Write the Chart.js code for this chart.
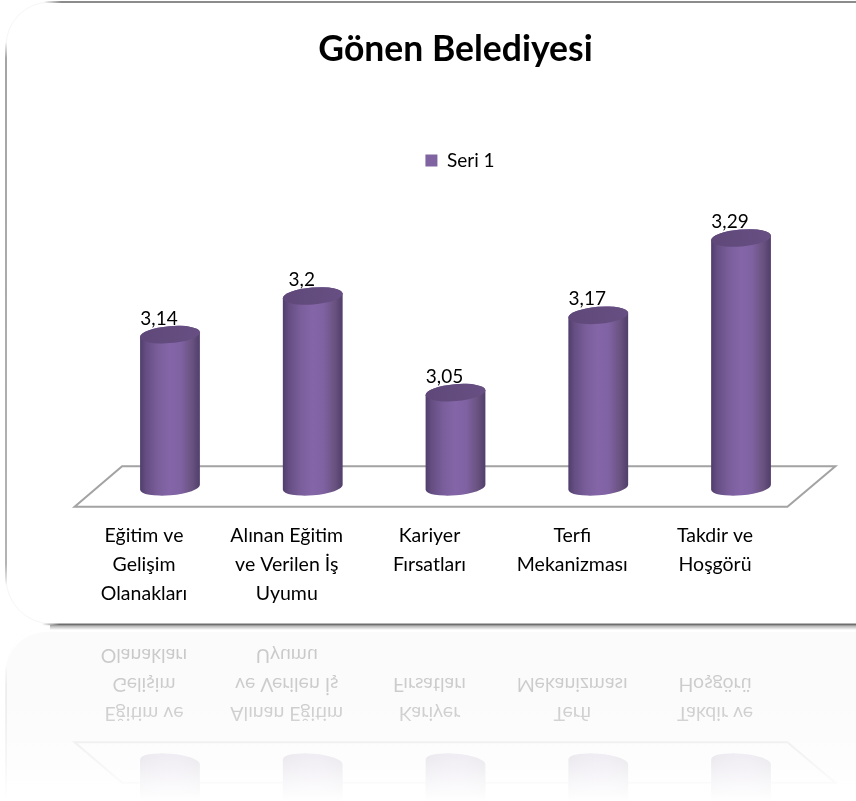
<!DOCTYPE html>
<html><head><meta charset="utf-8">
<style>html,body{margin:0;padding:0;background:#fff;overflow:hidden;width:856px;height:801px}canvas{display:block}</style>
<script src="https://cdn.jsdelivr.net/npm/chart.js@4"></script>
</head><body>
<canvas id="c" width="912" height="801"></canvas>
<script>
const titleText = "Gönen Belediyesi";
const seriesName = "Seri 1";
const categories = [["Eğitim ve","Gelişim","Olanakları"],["Alınan Eğitim","ve Verilen İş","Uyumu"],["Kariyer","Fırsatları"],["Terfi","Mekanizması"],["Takdir ve","Hoşgörü"]];
const values = [3.14,3.2,3.05,3.17,3.29];
const yMin = 2.9, yMax = 3.38;
const FONT = "Lato, Carlito, sans-serif";
const TILT = -0.083;

function line(ctx,x1,y1,x2,y2,w,stops){
  const g=ctx.createLinearGradient(x1,y1,x2,y2);
  stops.forEach(s=>g.addColorStop(s[0],s[1]));
  ctx.strokeStyle=g;ctx.lineWidth=w;ctx.beginPath();ctx.moveTo(x1,y1);ctx.lineTo(x2,y2);ctx.stroke();
}
const panel = {
  id:'panel',
  afterLayout(chart){
    chart.legend.left+=4.5;chart.legend.right+=4.5;
  },
  beforeDraw(chart){
    const c=chart.ctx,W=chart.width;
    c.save();
    c.fillStyle='#fff';c.fillRect(0,0,W,chart.height);
    c.strokeStyle='#f6f6f6';c.lineWidth=1;
    c.beginPath();c.moveTo(6,50);c.arcTo(6,2,50,2,44);c.stroke();
    c.beginPath();c.moveTo(6,575);c.arcTo(6,624,50,624,46);c.stroke();
    line(c,44,2,W,2,2.2,[[0,'rgba(130,130,130,0)'],[0.02,'#8c8c8c'],[1,'#8c8c8c']]);
    line(c,6,42,6,585,1.6,[[0,'rgba(130,130,130,0)'],[0.03,'#8e8e8e'],[0.96,'#a0a0a0'],[1,'rgba(130,130,130,0)']]);
    const s=c.createLinearGradient(0,625,0,630);
    s.addColorStop(0,'rgba(90,90,90,.55)');s.addColorStop(1,'rgba(90,90,90,0)');
    c.fillStyle=s;c.fillRect(50,625,W,5);
    line(c,42,624.3,W,624.3,1.8,[[0,'rgba(110,110,110,0)'],[0.02,'#6e6e6e'],[1,'#6e6e6e']]);
    c.restore();
  },
  beforeDatasetsDraw(chart){
    const c=chart.ctx,a=chart.chartArea;
    c.save();
    c.strokeStyle='#a3a3a3';c.lineWidth=2;c.lineJoin='miter';
    c.beginPath();
    c.moveTo(a.left-24,a.bottom+17.5);c.lineTo(a.right-25,a.bottom+17.5);
    c.lineTo(a.right+23,a.bottom-23);c.lineTo(a.left+23.5,a.bottom-23);c.closePath();c.stroke();
    c.restore();
  },
  beforeDatasetDraw(chart,args){
    const c=chart.ctx;
    args.meta.data.forEach(el=>{
      const {x,y,base,width}=el.getProps(['x','y','base','width'],true);
      const r=width/2, by=base-2;
      const g=c.createLinearGradient(x-r,0,x+r,0);
      [[0,'#4f3d6c'],[0.1,'#654e82'],[0.3,'#7a5e9b'],[0.5,'#8466a8'],[0.68,'#7f62a2'],[0.87,'#69527f'],[1,'#503e6b']].forEach(s=>g.addColorStop(s[0],s[1]));
      c.save();
      c.beginPath();
      c.ellipse(x,by,r,8,TILT,0,Math.PI,false);
      c.ellipse(x,y,r,8.5,TILT,Math.PI,2*Math.PI,false);
      c.closePath();c.fillStyle=g;c.fill();
      const t=c.createLinearGradient(x-r,0,x+r,0);
      t.addColorStop(0,'#5f4879');t.addColorStop(1,'#674f83');
      c.beginPath();c.ellipse(x,y,r,8.5,TILT,0,2*Math.PI);c.fillStyle=t;c.fill();
      c.restore();
    });
    return false;
  },
  afterDatasetsDraw(chart){
    const c=chart.ctx,meta=chart.getDatasetMeta(0);
    c.save();
    c.fillStyle='#000';c.font='19px '+FONT;c.textAlign='center';c.textBaseline='middle';
    meta.data.forEach((el,i)=>{
      c.fillText(String(values[i]).replace('.',','),el.x-11,el.y-16);
    });
    c.restore();
  },
  afterDraw(chart){
    const c=chart.ctx,W=chart.width,H=chart.height,cv=chart.canvas;
    c.save();
    const f=c.createLinearGradient(0,632,0,801);
    f.addColorStop(0,'#fbfbfb');f.addColorStop(.8,'#fbfbfb');f.addColorStop(1,'#fff');
    c.fillStyle=f;c.beginPath();c.roundRect(6,632,W,200,[40,0,0,0]);c.fill();
    c.restore();
    const snap=document.createElement('canvas');snap.width=W;snap.height=H;
    snap.getContext('2d').drawImage(cv,0,0);
    c.save();
    c.beginPath();c.rect(0,630,W,H-630);c.clip();
    c.translate(0,1249);c.scale(1,-1);
    c.filter='blur(0.7px)';c.globalAlpha=.2;
    c.drawImage(snap,0,0);
    c.restore();
    c.save();
    const o=c.createLinearGradient(0,630,0,801);
    o.addColorStop(0,'rgba(255,255,255,0)');
    o.addColorStop(.45,'rgba(255,255,255,.1)');
    o.addColorStop(.75,'rgba(255,255,255,.5)');
    o.addColorStop(1,'rgba(255,255,255,1)');
    c.fillStyle=o;c.fillRect(0,630,W,H-630);
    c.restore();
  }
};
new Chart(document.getElementById('c'),{
  type:'bar',
  data:{labels:categories,datasets:[{label:seriesName,data:values,backgroundColor:'#8064a2',barThickness:60,base:yMin}]},
  plugins:[panel],
  options:{
    responsive:false,animation:false,
    layout:{padding:{left:98.6,right:99.6,top:0,bottom:0}},
    plugins:{
      title:{display:true,text:titleText,color:'#000',font:{family:FONT,size:35.5,weight:'bold',lineHeight:1.2},padding:{top:28,bottom:50}},
      legend:{display:true,position:'top',labels:{font:{family:FONT,size:19},color:'#000',boxWidth:12,boxHeight:12,padding:30.4}},
      tooltip:{enabled:false}
    },
    scales:{
      y:{display:false,min:yMin,max:yMax},
      x:{
        grid:{display:false},border:{display:false},
        afterFit(s){s.height=311.7;},
        ticks:{color:'#000',maxRotation:0,autoSkip:false,padding:24,labelOffset:-26,font:{family:FONT,size:19.5,lineHeight:1.49}}
      }
    }
  }
});
</script>
</body></html>
